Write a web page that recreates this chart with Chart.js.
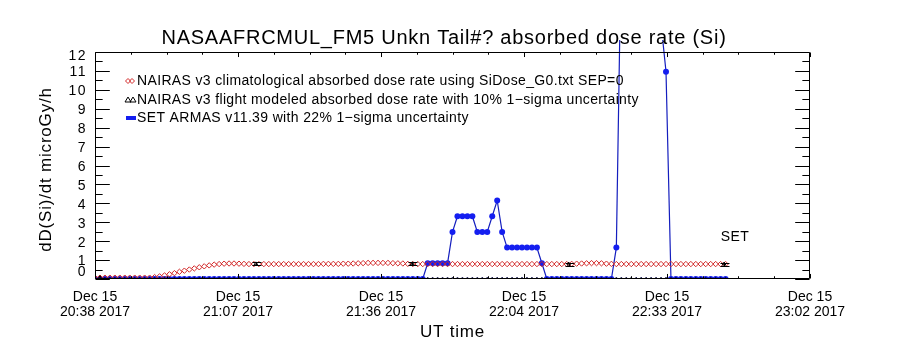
<!DOCTYPE html>
<html>
<head>
<meta charset="utf-8">
<title>NASAAFRCMUL_FM5 absorbed dose rate (Si)</title>
<script src="https://cdn.jsdelivr.net/npm/chart.js@4/dist/chart.umd.min.js"></script>
<style>
  html, body { margin: 0; padding: 0; background: #fff; }
  #wrap { width: 900px; height: 350px; position: relative; }
</style>
</head>
<body>
<div id="wrap"><canvas id="c"></canvas></div>
<script>
// Sample times: minutes after Dec 15 2017 20:38 UT, one sample per minute
const sampleMinutes = Array.from({ length: 128 }, (_, i) => i);

// NAIRAS v3 climatological absorbed dose rate (microGy/h)
const nairasClimDose = [
  0.07, 0.07, 0.07, 0.07, 0.07, 0.07, 0.07, 0.07, 0.07, 0.07,
  0.07, 0.07, 0.10, 0.14, 0.19, 0.25, 0.31, 0.38, 0.44, 0.50,
  0.56, 0.62, 0.67, 0.72, 0.76, 0.79, 0.81, 0.82, 0.82, 0.81,
  0.80, 0.79, 0.79, 0.79, 0.79, 0.79, 0.79, 0.79, 0.79, 0.79,
  0.79, 0.79, 0.79, 0.79, 0.79, 0.79, 0.80, 0.80, 0.80, 0.80,
  0.81, 0.81, 0.82, 0.83, 0.84, 0.85, 0.85, 0.85, 0.85, 0.85,
  0.84, 0.83, 0.82, 0.80, 0.79, 0.79, 0.79, 0.79, 0.79, 0.79,
  0.79, 0.79, 0.79, 0.79, 0.79, 0.79, 0.79, 0.79, 0.79, 0.79,
  0.79, 0.79, 0.79, 0.79, 0.79, 0.79, 0.79, 0.79, 0.79, 0.79,
  0.79, 0.79, 0.79, 0.79, 0.79, 0.79, 0.80, 0.81, 0.82, 0.83,
  0.84, 0.84, 0.83, 0.81, 0.80, 0.79, 0.79, 0.79, 0.79, 0.79,
  0.79, 0.79, 0.79, 0.79, 0.79, 0.79, 0.79, 0.79, 0.79, 0.79,
  0.79, 0.79, 0.79, 0.79, 0.79, 0.79, 0.79, 0.79
];

// SET ARMAS v11.39 measured absorbed dose rate (microGy/h)
const armasDose = [
  0, 0, 0, 0, 0, 0, 0, 0, 0, 0,
  0, 0, 0, 0, 0, 0, 0, 0, 0, 0,
  0, 0, 0, 0, 0, 0, 0, 0, 0, 0,
  0, 0, 0, 0, 0, 0, 0, 0, 0, 0,
  0, 0, 0, 0, 0, 0, 0, 0, 0, 0,
  0, 0, 0, 0, 0, 0, 0, 0, 0, 0,
  0, 0, 0, 0, 0, 0, 0, 0.83, 0.83, 0.83,
  0.83, 0.83, 2.49, 3.32, 3.32, 3.32, 3.32, 2.49, 2.49, 2.49,
  3.32, 4.15, 2.49, 1.66, 1.66, 1.66, 1.66, 1.66, 1.66, 1.66,
  0.83, 0, 0, 0, 0, 0, 0, 0, 0, 0,
  0, 0, 0, 0, 0, 1.66, 18, 35, 48, 55,
  52, 40, 28, 18, 13.5, 10.96, 0, 0, 0, 0,
  0, 0, 0, 0, 0, 0, 0, 0
];

// NAIRAS v3 flight modeled absorbed dose rate (microGy/h), 10% 1-sigma
const flightMinutes = [1.0, 32.4, 63.9, 95.4, 126.7];
const flightDose = [0.07, 0.80, 0.80, 0.79, 0.79];
const flightSigma = 0.10;
// flight-model samples that come out at zero along the track
const flightZeroDose = [
  0, 0, 0, 0, 0, 0, 0, 0, 0, 0, 0, 0, 0, 0, 0, 0, 0, 0, 0, 0,
  0, 0, 0, 0, 0, 0, 0, 0, 0, 0, 0, 0, 0, 0, 0, 0, 0, 0, 0, 0,
  0, 0, 0, 0, 0, 0, 0, 0, 0, 0, 0, 0, 0, 0, 0, 0, 0, 0, 0, 0,
  0, 0, 0, 0, 0, 0, 0, 0, 0, 0, 0, 0, 0, 0, 0, 0, 0, 0, 0, 0,
  0, 0, 0, 0, 0, 0, 0, 0, 0, 0, 0, 0, 0, 0, 0, 0, 0, 0, 0, 0,
  0, 0, 0, 0, 0, 0, 0, 0, 0, 0, 0, 0, 0, 0, 0, 0, 0, 0, 0, 0,
  0, 0, 0, 0, 0, 0, 0, 0
];

// Axis ticks
const xTickMinutes = [0, 28.8, 57.6, 86.4, 115.2, 144];
const xTickLabels = [
  ['Dec 15', '20:38 2017'], ['Dec 15', '21:07 2017'], ['Dec 15', '21:36 2017'],
  ['Dec 15', '22:04 2017'], ['Dec 15', '22:33 2017'], ['Dec 15', '23:02 2017']
];
const xMinorPerMajor = 4;
const yTickValues = [0, 1, 2, 3, 4, 5, 6, 7, 8, 9, 10, 11, 12];

const legendLabels = [
  'NAIRAS v3 climatological absorbed dose rate using SiDose_G0.txt SEP=0',
  'NAIRAS v3 flight modeled absorbed dose rate with 10% 1\u2212sigma uncertainty',
  'SET ARMAS v11.39 with 22% 1\u2212sigma uncertainty'
];
const chartTitle = 'NASAAFRCMUL_FM5 Unkn Tail#? absorbed dose rate (Si)';
const xAxisTitle = 'UT time';
const yAxisTitle = 'dD(Si)/dt microGy/h';

const FONT = "'Liberation Sans', 'DejaVu Sans', sans-serif";
const RED = 'rgb(210,40,40)';
const BLUE = 'rgb(20,30,240)';
const BLUE_LINE = 'rgb(20,30,190)';

const toXY = (xs, ys) => xs.map((x, i) => ({ x, y: ys[i] }));

// Plot box with inward-pointing major/minor ticks on all four sides, plus y labels
const plotBoxPlugin = {
  id: 'plotBox',
  afterDraw(chart) {
    const { ctx, chartArea: a, scales } = chart;
    const xs = scales.x, ys = scales.y;
    const w = a.right - a.left, h = a.bottom - a.top;
    const yMaj = 0.02 * w, yMin = yMaj / 2;
    const xMaj = 0.02 * h, xMin = xMaj / 2;
    const L = Math.round(a.left) + 0.5, R = Math.round(a.right) - 0.5;
    const T = Math.round(a.top) + 0.5, B = Math.round(a.bottom) - 0.5;
    ctx.save();
    ctx.strokeStyle = '#000';
    ctx.lineWidth = 1;
    ctx.beginPath();
    ctx.moveTo(L, T); ctx.lineTo(R, T); ctx.lineTo(R, B); ctx.lineTo(L, B); ctx.closePath();
    for (let k = 0; k < yTickValues.length; k++) {
      const v = yTickValues[k];
      const py = Math.round(ys.getPixelForValue(v)) + 0.5;
      ctx.moveTo(L, py); ctx.lineTo(L + yMaj, py);
      ctx.moveTo(R, py); ctx.lineTo(R - yMaj, py);
      if (k < yTickValues.length - 1) {
        const pm = Math.round(ys.getPixelForValue((v + yTickValues[k + 1]) / 2)) + 0.5;
        ctx.moveTo(L, pm); ctx.lineTo(L + yMin, pm);
        ctx.moveTo(R, pm); ctx.lineTo(R - yMin, pm);
      }
    }
    for (let k = 0; k < xTickMinutes.length; k++) {
      const v = xTickMinutes[k];
      const px = Math.round(xs.getPixelForValue(v)) + 0.5;
      ctx.moveTo(px, B); ctx.lineTo(px, B - xMaj);
      ctx.moveTo(px, T); ctx.lineTo(px, T + xMaj);
      if (k < xTickMinutes.length - 1) {
        const step = (xTickMinutes[k + 1] - v) / xMinorPerMajor;
        for (let j = 1; j < xMinorPerMajor; j++) {
          const pm = Math.round(xs.getPixelForValue(v + j * step)) + 0.5;
          ctx.moveTo(pm, B); ctx.lineTo(pm, B - xMin);
          ctx.moveTo(pm, T); ctx.lineTo(pm, T + xMin);
        }
      }
    }
    ctx.stroke();

    // y tick labels, end labels kept inside the box height
    ctx.fillStyle = '#000';
    ctx.font = '14px ' + FONT;
    ctx.letterSpacing = '1.5px';
    ctx.textAlign = 'right';
    ctx.textBaseline = 'middle';
    yTickValues.forEach(v => {
      let cy = ys.getPixelForValue(v) + 1.5;
      cy = Math.min(Math.max(cy, a.top + 4), a.bottom - 7);
      ctx.fillText(String(v), a.left - 8, cy);
    });

    // axis titles
    ctx.font = '17px ' + FONT;
    ctx.letterSpacing = '0.8px';
    ctx.textAlign = 'center';
    ctx.fillText(xAxisTitle, (a.left + a.right) / 2, 332);
    ctx.save();
    ctx.translate(46, (a.top + a.bottom) / 2 + 4);
    ctx.rotate(-Math.PI / 2);
    ctx.fillText(yAxisTitle, 0, 0);
    ctx.restore();
    ctx.restore();
  }
};

// Error bars for the flight-modeled points
const errorBarPlugin = {
  id: 'errorBars',
  afterDatasetsDraw(chart) {
    const { ctx, scales } = chart;
    const xs = scales.x, ys = scales.y;
    ctx.save();
    ctx.strokeStyle = '#000';
    ctx.lineWidth = 1;
    ctx.beginPath();
    flightMinutes.forEach((m, i) => {
      const px = Math.round(xs.getPixelForValue(m)) + 0.5;
      const lo = Math.round(ys.getPixelForValue(flightDose[i] * (1 - flightSigma))) + 0.5;
      const hi = Math.round(ys.getPixelForValue(flightDose[i] * (1 + flightSigma))) + 0.5;
      ctx.moveTo(px, lo); ctx.lineTo(px, hi);
      ctx.moveTo(px - 4, lo); ctx.lineTo(px + 5, lo);
      ctx.moveTo(px - 4, hi); ctx.lineTo(px + 5, hi);
    });
    ctx.stroke();
    ctx.restore();
  }
};

// Title, in-plot legend and the SET tag
const annotationPlugin = {
  id: 'annotations',
  afterDraw(chart) {
    const { ctx, chartArea: a, scales } = chart;
    const xs = scales.x, ys = scales.y;
    ctx.save();
    ctx.fillStyle = '#000';
    ctx.textBaseline = 'middle';
    ctx.textAlign = 'center';
    ctx.font = '20px ' + FONT;
    ctx.letterSpacing = '0.75px';
    ctx.fillText(chartTitle, 444, 38);

    ctx.textAlign = 'left';
    ctx.font = '14px ' + FONT;
    ctx.letterSpacing = '0.35px';
    const lx = a.left + 42;
    const rows = [a.top + 29, a.top + 48, a.top + 66];
    rows.forEach((ry, i) => ctx.fillText(legendLabels[i], lx, ry));

    // legend symbols
    ctx.lineWidth = 1;
    ctx.strokeStyle = RED;
    [lx - 9, lx - 5].forEach(cx => {
      ctx.beginPath();
      ctx.moveTo(cx, rows[0] - 2.5); ctx.lineTo(cx + 2.5, rows[0]);
      ctx.lineTo(cx, rows[0] + 2.5); ctx.lineTo(cx - 2.5, rows[0]); ctx.closePath();
      ctx.stroke();
    });
    ctx.strokeStyle = '#000';
    [lx - 9, lx - 4].forEach(cx => {
      ctx.beginPath();
      ctx.moveTo(cx, rows[1] - 3); ctx.lineTo(cx + 3, rows[1] + 2);
      ctx.lineTo(cx - 3, rows[1] + 2); ctx.closePath();
      ctx.stroke();
    });
    ctx.fillStyle = BLUE;
    ctx.fillRect(lx - 11, rows[2] - 2, 10, 4);

    ctx.fillStyle = '#000';
    ctx.font = '14px ' + FONT;
    ctx.letterSpacing = '0.5px';
    ctx.fillText('SET', xs.getPixelForValue(126), ys.getPixelForValue(2.2));
    ctx.restore();
  }
};

new Chart(document.getElementById('c'), {
  type: 'scatter',
  data: {
    datasets: [
      {
        label: legendLabels[2],
        data: toXY(sampleMinutes, armasDose),
        showLine: true,
        borderColor: BLUE_LINE,
        borderWidth: 1.2,
        pointRadius: 3,
        pointHoverRadius: 3,
        pointBackgroundColor: BLUE,
        pointBorderWidth: 0,
        clip: { left: 0, right: 0, bottom: 0, top: 12 },
        order: 2
      },
      {
        label: legendLabels[0],
        data: toXY(sampleMinutes, nairasClimDose),
        showLine: false,
        pointStyle: 'rectRot',
        pointRadius: 2.7,
        pointHoverRadius: 2.7,
        pointBorderColor: RED,
        pointBackgroundColor: 'rgba(0,0,0,0)',
        pointBorderWidth: 1,
        order: 1
      },
      {
        label: legendLabels[1],
        data: toXY(flightMinutes, flightDose),
        showLine: false,
        pointStyle: 'triangle',
        pointRadius: 2,
        pointHoverRadius: 2,
        pointBorderColor: '#000',
        pointBackgroundColor: 'rgba(0,0,0,0)',
        pointBorderWidth: 1,
        order: 0
      },
      {
        label: legendLabels[1] + ' (zero samples)',
        data: toXY(sampleMinutes, flightZeroDose),
        showLine: false,
        pointStyle: 'triangle',
        pointRadius: 2,
        pointHoverRadius: 2,
        pointBorderColor: 'rgb(10,10,70)',
        pointBackgroundColor: 'rgba(0,0,0,0)',
        pointBorderWidth: 0.8,
        order: 0
      }
    ]
  },
  options: {
    responsive: true,
    maintainAspectRatio: false,
    animation: false,
    events: [],
    layout: { padding: { top: 52, right: 90, left: 0, bottom: 0 } },
    plugins: { legend: { display: false }, tooltip: { enabled: false }, title: { display: false } },
    scales: {
      x: {
        type: 'linear',
        min: 0,
        max: 144,
        afterBuildTicks: s => { s.ticks = xTickMinutes.map(v => ({ value: v })); },
        afterFit: s => { s.height = 71; },
        grid: { display: false, drawTicks: false },
        border: { display: false },
        ticks: {
          autoSkip: false,
          maxRotation: 0,
          padding: 10,
          color: '#000',
          font: { family: FONT, size: 14, lineHeight: 1.1 },
          callback: (v, i) => xTickLabels[i]
        }
      },
      y: {
        min: 0,
        max: 12,
        afterBuildTicks: s => { s.ticks = yTickValues.map(v => ({ value: v })); },
        afterFit: s => { s.width = 95; },
        grid: { display: false, drawTicks: false },
        border: { display: false },
        ticks: { display: false }
      }
    }
  },
  plugins: [plotBoxPlugin, errorBarPlugin, annotationPlugin]
});
</script>
</body>
</html>
